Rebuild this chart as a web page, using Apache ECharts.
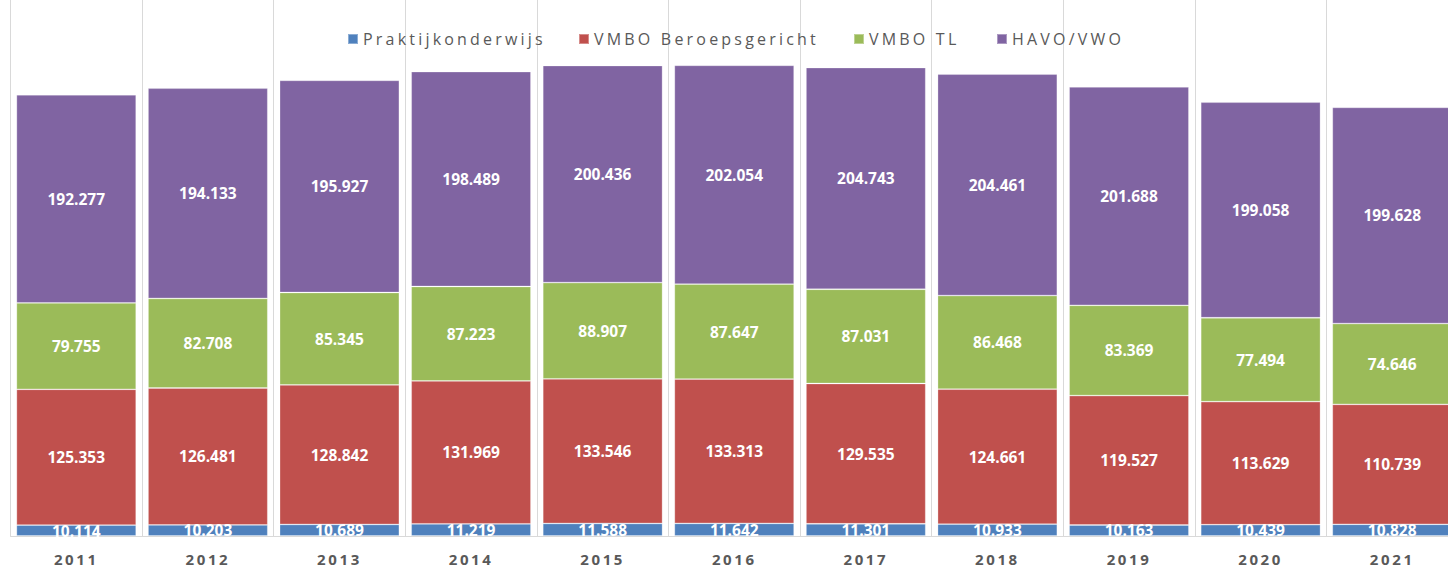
<!DOCTYPE html>
<html>
<head>
<meta charset="utf-8">
<script src="https://cdn.jsdelivr.net/npm/echarts@6.0.0/dist/echarts.min.js"></script>
<style>
  html, body { margin: 0; padding: 0; background: #fff; overflow: hidden; }
  /* wider than the window: the last column is cut off on the right, as in the original */
  #chart { width: 1460px; height: 567px; }
  /* spaced-out legend and axis text, like the original */
  #chart text { letter-spacing: 2.6px; }
  #chart text[style*="16px"] { letter-spacing: 3.2px; }
  #chart text[style*="15.5px"], #chart text[fill="#fff"] { letter-spacing: 0; }
</style>
</head>
<body>
<div id="chart"></div>
<script>
const jaren = ['2011', '2012', '2013', '2014', '2015', '2016', '2017', '2018', '2019', '2020', '2021'];

const praktijkonderwijs = [10114, 10203, 10689, 11219, 11588, 11642, 11301, 10933, 10163, 10439, 10828];
const vmboBeroeps = [125353, 126481, 128842, 131969, 133546, 133313, 129535, 124661, 119527, 113629, 110739];
const vmboTL = [79755, 82708, 85345, 87223, 88907, 87647, 87031, 86468, 83369, 77494, 74646];
const havoVwo = [192277, 194133, 195927, 198489, 200436, 202054, 204743, 204461, 201688, 199058, 199628];

const kleuren = ['#4F81BD', '#C0504D', '#9BBB59', '#8064A2'];
const grijs = '#595959';

// 192277 -> "192.277"
const fmt = v => String(v).replace(/\B(?=(\d{3})+(?!\d))/g, '.');

const chart = echarts.init(document.getElementById('chart'), null, { renderer: 'svg' });

function legenda(naam, x) {
  return {
    left: x,
    top: 31,
    padding: 0,
    itemWidth: 10,
    itemHeight: 10,
    icon: 'rect',
    data: [naam],
    textStyle: { fontFamily: 'Open Sans', fontSize: 16, color: grijs }
  };
}

function reeks(naam, data, kleur) {
  return {
    name: naam,
    type: 'bar',
    stack: 'totaal',
    barCategoryGap: '9%',
    data: data,
    itemStyle: { color: kleur, borderColor: 'rgba(255,255,255,0.35)', borderWidth: 0.8 },
    label: {
      show: true,
      position: 'inside',
      color: '#fff',
      fontFamily: 'Open Sans',
      fontWeight: 'bold',
      fontSize: 15.5,
      formatter: p => fmt(p.value)
    },
    emphasis: { disabled: true }
  };
}

const option = {
  animation: false,
  legend: [
    legenda('Praktijkonderwijs', 347),
    legenda('VMBO Beroepsgericht', 578),
    legenda('VMBO TL', 853),
    legenda('HAVO/VWO', 996)
  ],
  grid: { left: 10.5, right: 2, top: 0, bottom: 31 },
  xAxis: {
    type: 'category',
    data: jaren,
    axisLine: { lineStyle: { color: '#D9D9D9', width: 1 } },
    axisTick: { show: false },
    splitLine: { show: true, lineStyle: { color: '#D9D9D9', width: 1 } },
    axisLabel: {
      color: grijs,
      fontFamily: 'Open Sans',
      fontWeight: 'bold',
      fontSize: 15,
      margin: 15
    }
  },
  yAxis: {
    type: 'value',
    min: 0,
    max: 495000,
    show: false,
    splitLine: { show: false }
  },
  series: [
    reeks('Praktijkonderwijs', praktijkonderwijs, kleuren[0]),
    reeks('VMBO Beroepsgericht', vmboBeroeps, kleuren[1]),
    reeks('VMBO TL', vmboTL, kleuren[2]),
    reeks('HAVO/VWO', havoVwo, kleuren[3])
  ]
};

chart.setOption(option);
</script>
</body>
</html>
